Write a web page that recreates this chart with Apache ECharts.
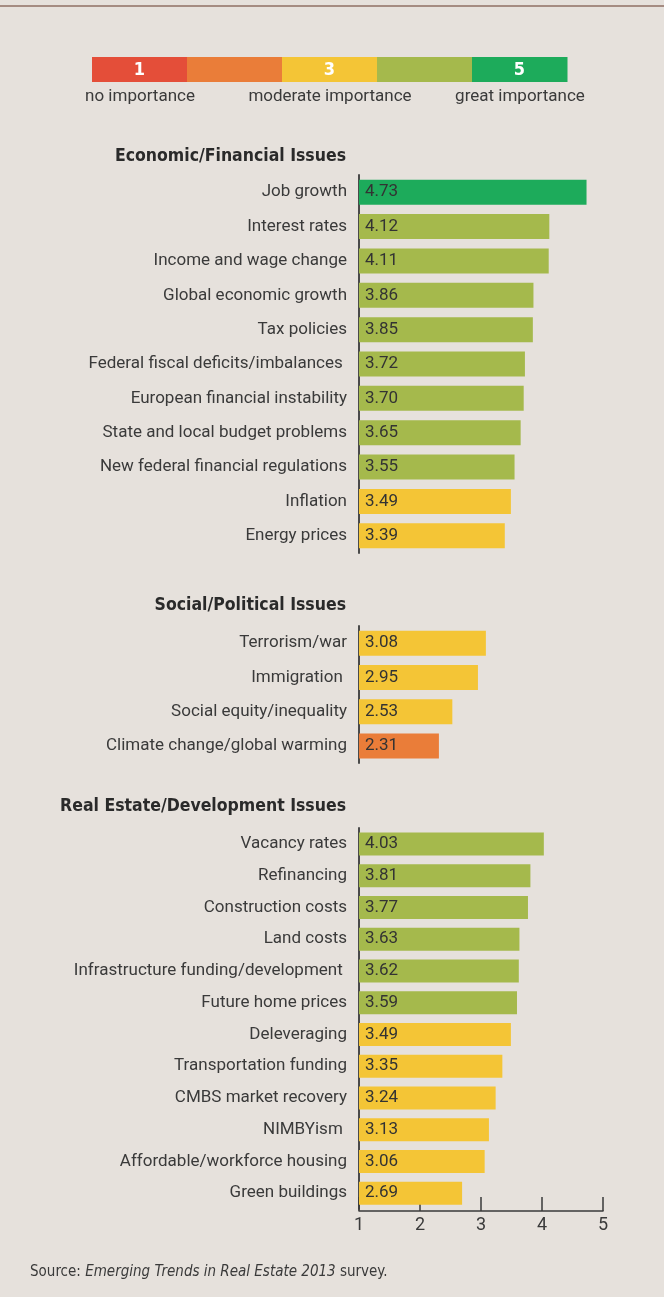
<!DOCTYPE html>
<html>
<head>
<meta charset="utf-8">
<script src="https://cdn.jsdelivr.net/npm/echarts@6/dist/echarts.min.js"></script>
<style>
  html, body { margin: 0; padding: 0; background: #eeebe7; }
  #chart { width: 664px; height: 1297px; }
</style>
</head>
<body>
<div id="chart"></div>
<script>
'use strict';

var FONT = 'Roboto, "DejaVu Sans Condensed", sans-serif';
var BOLD_FONT = '"DejaVu Sans Condensed", Roboto, sans-serif';

// importance scale (legend)
var scaleColors = ['#e44e39', '#ea7d39', '#f4c536', '#a5b94c', '#1dab5b'];
var scaleNumbers = ['1', '', '3', '', '5'];
var scaleLabels = ['no importance', 'moderate importance', 'great importance'];

// Economic/Financial Issues
var econCats = ['Job growth', 'Interest rates', 'Income and wage change', 'Global economic growth',
    'Tax policies', 'Federal fiscal deficits/imbalances ', 'European financial instability',
    'State and local budget problems', 'New federal financial regulations', 'Inflation', 'Energy prices'];
var econVals = [4.73, 4.12, 4.11, 3.86, 3.85, 3.72, 3.70, 3.65, 3.55, 3.49, 3.39];

// Social/Political Issues
var socialCats = ['Terrorism/war', 'Immigration ', 'Social equity/inequality', 'Climate change/global warming'];
var socialVals = [3.08, 2.95, 2.53, 2.31];

// Real Estate/Development Issues
var reCats = ['Vacancy rates', 'Refinancing', 'Construction costs', 'Land costs',
    'Infrastructure funding/development ', 'Future home prices', 'Deleveraging',
    'Transportation funding', 'CMBS market recovery', 'NIMBYism ', 'Affordable/workforce housing',
    'Green buildings'];
var reVals = [4.03, 3.81, 3.77, 3.63, 3.62, 3.59, 3.49, 3.35, 3.24, 3.13, 3.06, 2.69];

var axisTicks = [1, 2, 3, 4, 5];

function colorFor(v) {
    return scaleColors[Math.min(4, Math.max(0, Math.round(v) - 1))];
}

var grids = [
    { left: 359, width: 244, top: 175, height: 378 },
    { left: 359, width: 244, top: 626, height: 137 },
    { left: 359, width: 244, top: 828, height: 381 }
];

var xAxes = grids.map(function(g, i) {
    var last = i === 2;
    return {
        gridIndex: i,
        type: 'value',
        min: axisTicks[0],
        max: axisTicks[axisTicks.length - 1],
        interval: 1,
        show: last,
        offset: last ? 2 : 0,
        splitLine: { show: false },
        axisLine: { show: last, lineStyle: { color: '#3a3a3a', width: 1.5 } },
        axisTick: { show: last, inside: true, length: 14, lineStyle: { color: '#3a3a3a', width: 1.5 } },
        axisLabel: { show: last, color: '#3a3a3a', fontFamily: FONT, fontSize: 18, margin: 5 }
    };
});

var yAxes = [econCats, socialCats, reCats].map(function(cats, i) {
    return {
        gridIndex: i,
        type: 'category',
        inverse: true,
        data: cats,
        axisLine: { show: true, lineStyle: { color: '#4a4a4a', width: 2 } },
        axisTick: { show: false },
        axisLabel: { color: '#3a3a3a', fontFamily: FONT, fontSize: 17, margin: 12 }
    };
});

var series = [econVals, socialVals, reVals].map(function(vals, i) {
    return {
        type: 'bar',
        xAxisIndex: i,
        yAxisIndex: i,
        barWidth: i === 2 ? 23 : 25,
        data: vals.map(function(v) {
            return { value: v, itemStyle: { color: colorFor(v) } };
        }),
        label: {
            show: true,
            position: 'insideLeft',
            distance: 6,
            color: '#333',
            fontFamily: FONT,
            fontSize: 17,
            formatter: function(p) { return p.value.toFixed(2); }
        },
        silent: true
    };
});

var graphics = [
    { type: 'rect', left: 0, top: 0, shape: { width: 664, height: 1297 }, style: { fill: '#e6e1dc' }, z: -10 },
    { type: 'rect', left: 0, top: 5, shape: { width: 664, height: 2 }, style: { fill: '#a58c82' } }
];
scaleColors.forEach(function(c, i) {
    graphics.push({ type: 'rect', left: 92 + i * 95, top: 57, shape: { width: 95.5, height: 25 }, style: { fill: c } });
    if (scaleNumbers[i]) {
        graphics.push({
            type: 'text', x: 92 + i * 95 + 47.5, y: 70,
            style: { text: scaleNumbers[i], fill: '#fff', font: 'bold 18px ' + BOLD_FONT, textAlign: 'center', textVerticalAlign: 'middle' }
        });
    }
});
[140, 330, 520].forEach(function(x, i) {
    graphics.push({
        type: 'text', x: x, y: 97,
        style: { text: scaleLabels[i], fill: '#3a3a3a', font: '17px ' + FONT, textAlign: 'center', textVerticalAlign: 'middle' }
    });
});
[['Economic/Financial Issues', 156], ['Social/Political Issues', 605], ['Real Estate/Development Issues', 806]].forEach(function(t) {
    graphics.push({
        type: 'text', x: 346, y: t[1],
        style: { text: t[0], fill: '#2a2a2a', font: 'bold 17.5px ' + BOLD_FONT, textAlign: 'right', textVerticalAlign: 'middle' }
    });
});
graphics.push({
    type: 'text', x: 30, y: 1272,
    style: {
        text: 'Source: {i|Emerging Trends in Real Estate 2013} survey.',
        fill: '#3a3a3a', font: '15px ' + BOLD_FONT, textVerticalAlign: 'middle',
        rich: { i: { fontStyle: 'italic', fontFamily: BOLD_FONT, fontSize: 15, fill: '#3a3a3a' } }
    }
});

var chart = echarts.init(document.getElementById('chart'));
chart.setOption({
    backgroundColor: '#e6e1dc',
    animation: false,
    grid: grids,
    xAxis: xAxes,
    yAxis: yAxes,
    series: series,
    graphic: graphics
});
</script>
</body>
</html>
